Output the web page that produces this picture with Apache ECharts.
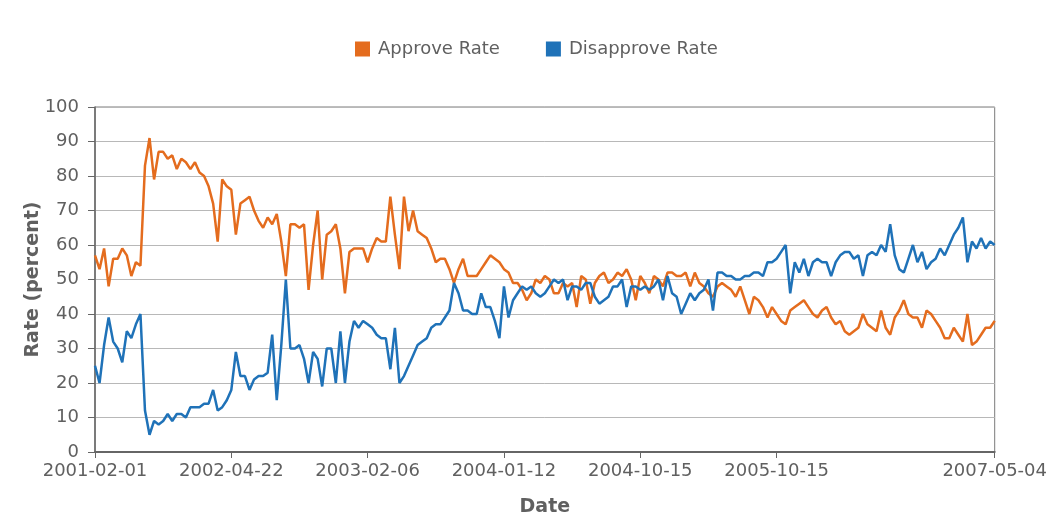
<!DOCTYPE html>
<html><head><meta charset="utf-8">
<script src="https://cdn.jsdelivr.net/npm/echarts/dist/echarts.min.js"></script>
<style>html,body{margin:0;padding:0;background:#fff}#c{width:1050px;height:522px}</style>
</head><body><div id="c"></div>
<script>
const dates = [
'2001-02-01','2001-02-19','2001-03-09','2001-04-06','2001-05-04','2001-05-18','2001-06-08','2001-06-28','2001-07-19','2001-08-10',
'2001-09-07','2001-09-14','2001-09-21','2001-10-05','2001-10-19','2001-11-02','2001-11-16','2001-11-30','2001-12-14','2001-12-28',
'2002-01-11','2002-01-25','2002-02-08','2002-02-22','2002-03-01','2002-03-08','2002-03-18','2002-03-29','2002-04-05','2002-04-12',
'2002-04-22','2002-05-06','2002-05-20','2002-05-28','2002-06-03','2002-06-17','2002-06-28','2002-07-05','2002-07-26','2002-08-05',
'2002-08-19','2002-09-02','2002-09-05','2002-09-13','2002-09-20','2002-10-03','2002-10-14','2002-10-21','2002-10-31','2002-11-08',
'2002-11-22','2002-12-05','2002-12-09','2002-12-16','2002-12-19','2003-01-03','2003-01-10','2003-01-20','2003-01-23','2003-01-31',
'2003-02-06','2003-02-17','2003-02-24','2003-03-03','2003-03-14','2003-03-22','2003-03-29','2003-04-05','2003-04-14','2003-04-22',
'2003-05-05','2003-05-19','2003-05-30','2003-06-12','2003-06-27','2003-07-07','2003-07-18','2003-07-25','2003-08-04','2003-08-25',
'2003-09-08','2003-09-19','2003-10-06','2003-10-10','2003-10-24','2003-11-03','2003-11-14','2003-11-21','2003-12-05','2003-12-15',
'2004-01-12','2004-01-29','2004-02-06','2004-02-16','2004-02-27','2004-03-05','2004-03-19','2004-03-26','2004-04-05','2004-04-16',
'2004-04-23','2004-05-02','2004-05-07','2004-05-21','2004-06-03','2004-06-21','2004-07-08','2004-07-19','2004-07-30','2004-08-09',
'2004-08-23','2004-09-03','2004-09-13','2004-09-24','2004-10-01','2004-10-04','2004-10-09','2004-10-11','2004-10-12','2004-10-14',
'2004-10-15','2004-10-22','2004-10-29','2004-11-19','2004-12-05','2004-12-17','2005-01-07','2005-01-14','2005-02-04','2005-02-25',
'2005-03-18','2005-03-25','2005-04-01','2005-04-18','2005-04-29','2005-05-20','2005-06-06','2005-06-16','2005-06-24','2005-07-07',
'2005-07-22','2005-07-29','2005-08-05','2005-08-12','2005-08-28','2005-09-08','2005-09-12','2005-09-16','2005-09-26','2005-10-07',
'2005-10-15','2005-10-24','2005-11-07','2005-11-11','2005-12-02','2005-12-16','2005-12-19','2006-01-06','2006-01-20','2006-02-06',
'2006-02-09','2006-02-28','2006-03-10','2006-03-13','2006-04-07','2006-04-10','2006-04-28','2006-05-05','2006-05-08','2006-06-01',
'2006-06-09','2006-06-23','2006-07-06','2006-07-21','2006-07-28','2006-08-07','2006-08-18','2006-08-31','2006-09-15','2006-09-22',
'2006-10-06','2006-10-09','2006-10-20','2006-11-02','2006-11-09','2006-12-08','2006-12-11','2007-01-05','2007-01-12','2007-01-15',
'2007-02-01','2007-02-09','2007-03-02','2007-03-11','2007-03-23','2007-04-02','2007-04-13','2007-04-20','2007-05-04'
];
const approve = [
57,53,59,48,56,56,59,57,51,55,
54,83,91,79,87,87,85,86,82,85,
84,82,84,81,80,77,72,61,79,77,
76,63,72,73,74,70,67,65,68,66,
69,61,51,66,66,65,66,47,60,70,
50,63,64,66,59,46,58,59,59,59,
55,59,62,61,61,74,63,53,74,64,
70,64,63,62,59,55,56,56,53,49,
53,56,51,51,51,53,55,57,56,55,
53,52,49,49,47,44,46,50,49,51,
50,46,46,49,48,49,42,51,50,43,
49,51,52,49,50,52,51,53,50,44,
51,49,46,51,50,48,52,52,51,51,
52,48,52,49,48,46,45,48,49,48,
47,45,48,44,40,45,44,42,39,42,
40,38,37,41,42,43,44,42,40,39,
41,42,39,37,38,35,34,35,36,40,
37,36,35,41,36,34,39,41,44,40,
39,39,36,41,40,38,36,33,33,36,
34,32,40,31,32,34,36,36,38
];
const disapprove = [
25,20,31,39,32,30,26,35,33,37,
40,12,5,9,8,9,11,9,11,11,
10,13,13,13,14,14,18,12,13,15,
18,29,22,22,18,21,22,22,23,34,
15,31,50,30,30,31,27,20,29,27,
19,30,30,20,35,20,32,38,36,38,
37,36,34,33,33,24,36,20,22,25,
28,31,32,33,36,37,37,39,41,49,
46,41,41,40,40,46,42,42,38,33,
48,39,44,46,48,47,48,46,45,46,
48,50,49,50,44,48,48,47,49,49,
45,43,44,45,48,48,50,42,48,48,
47,48,47,48,50,44,51,46,45,40,
43,46,44,46,47,50,41,52,52,51,
51,50,50,51,51,52,52,51,55,55,
56,58,60,46,55,52,56,51,55,56,
55,55,51,55,57,58,58,56,57,51,
57,58,57,60,58,66,57,53,52,56,
60,55,58,53,55,56,59,57,60,63,
65,68,55,61,59,62,59,61,60
];
const tickLabels = ['2001-02-01','2002-04-22','2003-02-06','2004-01-12','2004-10-15','2005-10-15','2007-05-04'];

const FONT = 'DejaVu Sans';
const TEXT = '#606060';
const showTick = (idx) => tickLabels.indexOf(dates[idx]) !== -1;

const chart = echarts.init(document.getElementById('c'), null, {renderer: 'canvas'});
chart.setOption({
  animation: false,
  backgroundColor: '#ffffff',
  color: ['#e46c1e', '#1f72b8'],
  legend: {
    top: 40, left: 355, padding: 0,
    icon: 'rect', itemWidth: 15, itemHeight: 15, itemGap: 46,
    textStyle: {fontFamily: FONT, fontSize: 18, color: TEXT, padding: [0, 0, 0, 3]},
    data: ['Approve Rate', 'Disapprove Rate']
  },
  grid: {
    left: 95, right: 51, top: 107, bottom: 70,
    show: true, borderColor: '#7a7a7a', borderWidth: 1, backgroundColor: 'transparent'
  },
  xAxis: {
    type: 'category', boundaryGap: false, data: dates,
    name: 'Date', nameLocation: 'middle', nameGap: 46,
    nameTextStyle: {fontFamily: FONT, fontSize: 19, fontWeight: 'bold', color: TEXT},
    axisLine: {lineStyle: {color: '#666', width: 2}},
    axisTick: {show: true, interval: showTick, length: 6, lineStyle: {color: '#666'}},
    axisLabel: {interval: showTick, fontFamily: FONT, fontSize: 18, color: TEXT, margin: 10},
    splitLine: {show: false}
  },
  yAxis: {
    type: 'value', min: 0, max: 100, interval: 10,
    name: 'Rate (percent)', nameLocation: 'middle', nameGap: 52, nameRotate: 90,
    nameMoveOverlap: false,
    nameTextStyle: {fontFamily: FONT, fontSize: 19, fontWeight: 'bold', color: TEXT},
    axisLine: {show: true, lineStyle: {color: '#666', width: 1.5}},
    axisTick: {show: true, length: 7, lineStyle: {color: '#666'}},
    axisLabel: {fontFamily: FONT, fontSize: 18, color: TEXT, margin: 16},
    splitLine: {lineStyle: {color: '#b8b8b8', width: 1}}
  },
  series: [
    {name: 'Approve Rate', type: 'line', data: approve, showSymbol: false, symbol: 'none',
     lineStyle: {width: 2.5, color: '#e46c1e'}, itemStyle: {color: '#e46c1e'}},
    {name: 'Disapprove Rate', type: 'line', data: disapprove, showSymbol: false, symbol: 'none',
     lineStyle: {width: 2.5, color: '#1f72b8'}, itemStyle: {color: '#1f72b8'}}
  ]
});
</script>
</body></html>
